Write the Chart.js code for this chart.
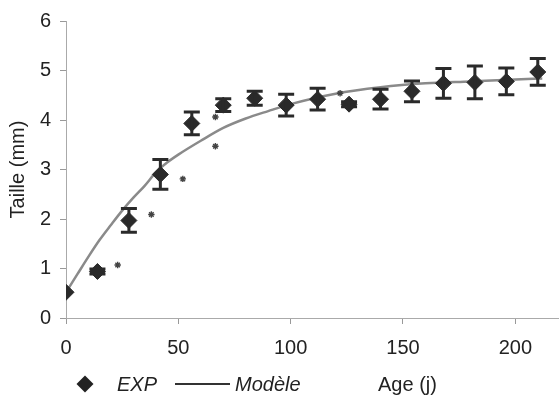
<!DOCTYPE html>
<html><head><meta charset="utf-8">
<script src="https://cdn.jsdelivr.net/npm/chart.js@4/dist/chart.umd.min.js"></script>
<style>
html,body{margin:0;padding:0;background:#fff;}
#wrap{position:relative;width:559px;height:400px;overflow:hidden;}
canvas{position:absolute;left:0;top:0;}
.lg{position:absolute;font-family:"Liberation Sans",Arial,sans-serif;font-size:20px;color:#222;line-height:24px;white-space:nowrap;}
.it{font-style:italic;}
#dia{position:absolute;width:12px;height:12px;background:#222;transform:rotate(45deg);}
#ln{position:absolute;height:2px;background:#333;}
</style></head><body>
<div id="wrap">
<canvas id="c" width="559" height="400"></canvas>
<div id="dia" style="left:79px;top:378px;"></div>
<div class="lg it" style="left:117px;top:372px;">EXP</div>
<div id="ln" style="left:175px;top:383px;width:55px;"></div>
<div class="lg it" style="left:235px;top:372px;">Modèle</div>
<div class="lg" style="left:378px;top:372px;">Age (j)</div>
</div>
<script>
// Experimental data (EXP)
const ages = [0, 14, 28, 42, 56, 70, 84, 98, 112, 126, 140, 154, 168, 182, 196, 210];
const tailles = [0.52, 0.94, 1.97, 2.9, 3.93, 4.3, 4.44, 4.3, 4.42, 4.32, 4.42, 4.58, 4.74, 4.76, 4.78, 4.97];
const erreurs = [0, 0.05, 0.24, 0.3, 0.23, 0.13, 0.14, 0.22, 0.22, 0.05, 0.2, 0.21, 0.3, 0.33, 0.27, 0.27];
// Model curve (Modèle)
const modeleAges = [0, 5, 10, 15, 20, 25, 30, 35, 40, 45, 50, 60, 70, 80, 90, 100, 120, 140, 160, 180, 200, 212];
const modeleTailles = [0.52, 0.88, 1.24, 1.58, 1.88, 2.17, 2.43, 2.67, 2.94, 3.14, 3.3, 3.58, 3.84, 4.03, 4.18, 4.32, 4.53, 4.66, 4.74, 4.78, 4.82, 4.84];
// Significance markers (*)
const etoilesAges = [23, 38, 52, 66.5, 66.5, 122];
const etoilesTailles = [1.07, 2.09, 2.81, 3.47, 4.06, 4.54];
// Tick labels
const xTicks = [0, 50, 100, 150, 200];
const yTicks = [0, 1, 2, 3, 4, 5, 6];

const FONT = '"Liberation Sans", Arial, sans-serif';

const errorBars = {
  id: 'errorBars',
  afterDatasetsDraw(chart) {
    const xs = chart.scales.x, ys = chart.scales.y, ctx = chart.ctx;
    ctx.save();
    ctx.strokeStyle = '#2a2a2a';
    ctx.lineWidth = 3;
    ages.forEach((a, i) => {
      const e = erreurs[i];
      if (!e) return;
      const px = xs.getPixelForValue(a);
      const top = ys.getPixelForValue(tailles[i] + e);
      const bot = ys.getPixelForValue(tailles[i] - e);
      ctx.beginPath();
      ctx.moveTo(px, top); ctx.lineTo(px, bot);
      ctx.moveTo(px - 8, top); ctx.lineTo(px + 8, top);
      ctx.moveTo(px - 8, bot); ctx.lineTo(px + 8, bot);
      ctx.stroke();
    });
    ctx.restore();
  }
};

new Chart(document.getElementById('c'), {
  type: 'scatter',
  data: {
    datasets: [
      {
        label: 'Modèle',
        data: modeleAges.map((a, i) => ({x: a, y: modeleTailles[i]})),
        showLine: true,
        borderColor: '#8a8a8a',
        borderWidth: 2.5,
        pointRadius: 0,
        cubicInterpolationMode: 'monotone',
        order: 3
      },
      {
        label: 'EXP',
        data: ages.map((a, i) => ({x: a, y: tailles[i]})),
        pointStyle: 'rectRot',
        pointRadius: 8,
        backgroundColor: '#2a2a2a',
        borderColor: '#2a2a2a',
        borderWidth: 1,
        order: 1
      },
      {
        label: '*',
        data: etoilesAges.map((a, i) => ({x: a, y: etoilesTailles[i]})),
        pointStyle: 'star',
        pointRadius: 3.2,
        borderColor: '#444',
        backgroundColor: '#444',
        borderWidth: 1.4,
        order: 2
      }
    ]
  },
  options: {
    responsive: false,
    animation: false,
    layout: {autoPadding: false, padding: {top: 18, right: 1, left: 0, bottom: 0}},
    plugins: {legend: {display: false}, tooltip: {enabled: false}},
    scales: {
      x: {
        type: 'linear',
        min: 0, max: 219,
        afterBuildTicks: s => { s.ticks = xTicks.map(v => ({value: v})); },
        afterFit: s => { s.height = 82; },
        grid: {display: true, drawOnChartArea: false, drawTicks: true, tickLength: 6, color: '#999'},
        border: {display: true, color: '#aaa', width: 1},
        ticks: {color: '#222', font: {family: FONT, size: 20}, padding: 12, maxRotation: 0}
      },
      y: {
        min: 0, max: 6,
        afterBuildTicks: s => { s.ticks = yTicks.map(v => ({value: v})); },
        afterFit: s => { s.width = 66; },
        grid: {display: true, drawOnChartArea: false, drawTicks: true, tickLength: 6, color: '#999'},
        border: {display: true, color: '#aaa', width: 1},
        ticks: {color: '#222', font: {family: FONT, size: 20}, padding: 9},
        title: {display: true, text: 'Taille (mm)', color: '#222', font: {family: FONT, size: 20}, padding: {top: 6, bottom: 0}}
      }
    }
  },
  plugins: [errorBars]
});
</script>
</body></html>
